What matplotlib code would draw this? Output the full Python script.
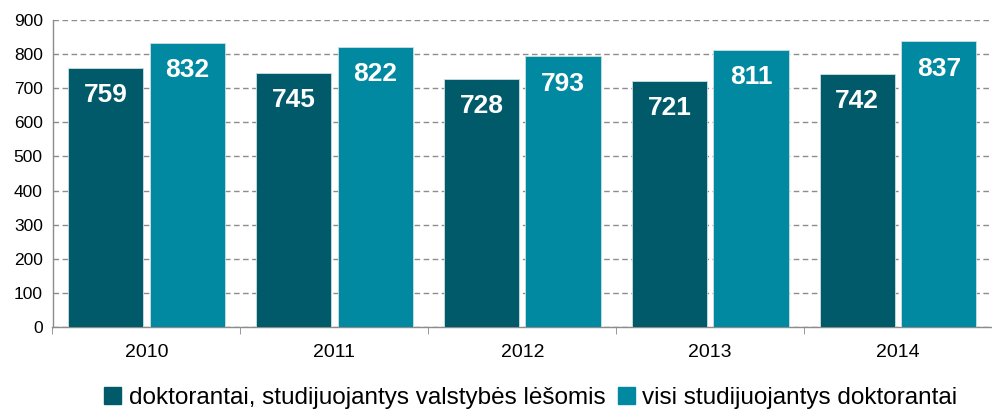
import numpy as np
import matplotlib
matplotlib.use("Agg")
import matplotlib.pyplot as plt
from matplotlib.patches import Patch

# data
years = ["2010", "2011", "2012", "2013", "2014"]
state_funded = [759, 745, 728, 721, 742]
all_doctoral = [832, 822, 793, 811, 837]
series_names = ["doktorantai, studijuojantys valstybės lėšomis",
                "visi studijuojantys doktorantai"]

dark = "#005a69"
light = "#0089a0"

plt.rcParams['font.family'] = ['Liberation Sans', 'DejaVu Sans']

fig = plt.figure(figsize=(9.92, 4.12), dpi=100)
ax = fig.add_axes([52.5 / 992, 85 / 412, 1 - 52.5 / 992, 307 / 412])

x = np.arange(len(years))
w = 0.40
b1 = ax.bar(x - 0.217, state_funded, w, color=dark, edgecolor="#cfdfe2", linewidth=0.6, zorder=3)
b2 = ax.bar(x + 0.217, all_doctoral, w, color=light, edgecolor="#cfdfe2", linewidth=0.6, zorder=3)

# value labels inside the bars, near the top
for bars in (b1, b2):
    for r in bars:
        ax.annotate(str(int(r.get_height())),
                    (r.get_x() + r.get_width() / 2, r.get_height()),
                    xytext=(0, -19.5), textcoords="offset points",
                    ha="center", va="center", color="white",
                    fontsize=19, fontweight="bold", zorder=4)

ax.set_ylim(0, 900)
ax.set_yticks(range(0, 901, 100))
ax.set_xlim(-0.5, -0.5 + (992 - 52.5) / 190.5)
ax.set_xticks(x)
ax.set_xticklabels(years, fontsize=14)
ax.set_xticks(np.arange(-0.5, 5, 1), minor=True)
ax.tick_params(axis="x", which="major", length=0, pad=12)
ax.tick_params(axis="x", which="minor", length=5, color="#888888", direction="out")
ax.tick_params(axis="y", length=0, labelsize=12.5, pad=7)

ax.yaxis.grid(True, linestyle=(0, (4, 2.5)), color="#8c8c8c", linewidth=1, zorder=0)
for s in ["top", "right"]:
    ax.spines[s].set_visible(False)
for s in ["left", "bottom"]:
    ax.spines[s].set_color("#8c8c8c")
    ax.spines[s].set_linewidth(1)

handles = [Patch(color=dark), Patch(color=light)]
fig.legend(handles, series_names, loc="center", bbox_to_anchor=(0.535, 0.035), ncol=2,
           frameon=False, fontsize=17.5, handlelength=0.7, handleheight=0.7,
           handletextpad=0.3, columnspacing=0.5)

fig.savefig("out.png", dpi=100)
